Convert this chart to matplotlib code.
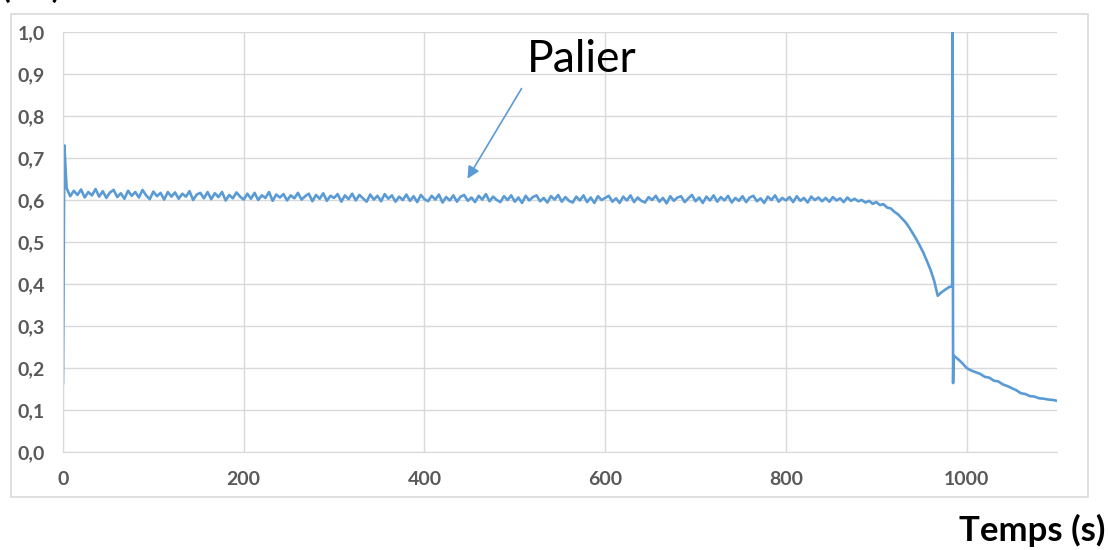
import numpy as np
import matplotlib
matplotlib.use("Agg")
import matplotlib.pyplot as plt
from matplotlib.patches import Rectangle
from matplotlib.ticker import FuncFormatter

# --- data ---
t_start = [0, 1.5]
y_start = [0.164, 0.73]

# plateau, one value every 4 s from 4 to 880 s
t_plateau = list(range(4, 884, 4))
y_plateau = [
    0.628, 0.609, 0.622, 0.612, 0.625, 0.606, 0.619, 0.611, 0.626, 0.608,
    0.621, 0.605, 0.618, 0.624, 0.607, 0.616, 0.603, 0.622, 0.610, 0.619,
    0.606, 0.624, 0.611, 0.602, 0.620, 0.609, 0.617, 0.601, 0.619, 0.608,
    0.618, 0.603, 0.615, 0.608, 0.621, 0.600, 0.613, 0.617, 0.604, 0.619,
    0.602, 0.616, 0.607, 0.619, 0.599, 0.612, 0.604, 0.618, 0.608, 0.601,
    0.615, 0.603, 0.617, 0.600, 0.611, 0.605, 0.619, 0.598, 0.613, 0.606,
    0.614, 0.599, 0.611, 0.604, 0.617, 0.601, 0.609, 0.615, 0.597, 0.612,
    0.603, 0.616, 0.598, 0.610, 0.605, 0.614, 0.596, 0.611, 0.602, 0.615,
    0.599, 0.612, 0.604, 0.596, 0.613, 0.601, 0.610, 0.597, 0.614, 0.603,
    0.611, 0.596, 0.608, 0.600, 0.613, 0.598, 0.609, 0.595, 0.612, 0.602,
    0.597, 0.610, 0.601, 0.613, 0.594, 0.607, 0.599, 0.611, 0.596, 0.608,
    0.612, 0.598, 0.606, 0.595, 0.610, 0.601, 0.614, 0.597, 0.608, 0.600,
    0.595, 0.609, 0.600, 0.611, 0.596, 0.606, 0.593, 0.610, 0.599, 0.607,
    0.611, 0.597, 0.605, 0.594, 0.609, 0.601, 0.612, 0.596, 0.607, 0.598,
    0.594, 0.608, 0.599, 0.611, 0.595, 0.606, 0.593, 0.609, 0.600, 0.605,
    0.610, 0.596, 0.604, 0.593, 0.608, 0.599, 0.611, 0.595, 0.606, 0.598,
    0.594, 0.607, 0.600, 0.610, 0.596, 0.605, 0.592, 0.609, 0.598, 0.606,
    0.609, 0.595, 0.604, 0.612, 0.597, 0.606, 0.593, 0.608, 0.599, 0.611,
    0.596, 0.607, 0.599, 0.610, 0.594, 0.605, 0.598, 0.609, 0.595, 0.606,
    0.610, 0.597, 0.604, 0.593, 0.608, 0.600, 0.611, 0.596, 0.605, 0.599,
    0.607, 0.595, 0.609, 0.598, 0.605, 0.594, 0.608, 0.600, 0.606, 0.597,
    0.605, 0.596, 0.607, 0.599, 0.604, 0.595, 0.606, 0.598, 0.603, 0.597,
]

# drop before the break, every 4 s from 884 to 980 s
t_drop = list(range(884, 984, 4))
y_drop = [
    0.600, 0.594, 0.598, 0.591, 0.595, 0.588, 0.590, 0.582, 0.580, 0.572,
    0.566, 0.557, 0.548, 0.536, 0.522, 0.508, 0.492, 0.475, 0.455, 0.434,
    0.408, 0.372, 0.380, 0.386, 0.392,
]

# break spike
t_spike = [984, 984.5, 985, 985.5]
y_spike = [0.395, 1.05, 0.164, 0.230]

# tail after the break, every 5 s
t_tail = list(range(990, 1105, 5))
y_tail = [
    0.222, 0.212, 0.200, 0.194, 0.190, 0.186, 0.179, 0.177, 0.170, 0.168,
    0.161, 0.157, 0.152, 0.147, 0.140, 0.138, 0.133, 0.132, 0.128, 0.127,
    0.125, 0.124, 0.122,
]

x_ticks = [0, 200, 400, 600, 800, 1000]
y_ticks = [0.0, 0.1, 0.2, 0.3, 0.4, 0.5, 0.6, 0.7, 0.8, 0.9, 1.0]

t = np.array(t_start + t_plateau + t_drop + t_spike + t_tail, dtype=float)
y = np.array(y_start + y_plateau + y_drop + y_spike + y_tail)

plt.rcParams['font.family'] = ['Lato', 'DejaVu Sans']

blue = '#5b9bd5'
grid_c = '#d9d9d9'
label_c = '#595959'

fig = plt.figure(figsize=(11.08, 5.5), dpi=100)
fig.patches.append(Rectangle((11 / 1108, 53 / 550), 1077 / 1108, 483 / 550,
                             transform=fig.transFigure, fill=False,
                             edgecolor=grid_c, linewidth=1.2))
ax = fig.add_axes([63 / 1108, 98 / 550, 994 / 1108, 420 / 550])

ax.plot(t, y, color=blue, linewidth=1.9)

ax.set_xlim(0, 1100)
ax.set_ylim(0, 1.0)
ax.set_xticks(x_ticks)
ax.set_yticks(y_ticks)
ax.yaxis.set_major_formatter(FuncFormatter(lambda v, p: f"{v:.1f}".replace('.', ',')))
ax.grid(True, color=grid_c, linewidth=1)
ax.set_axisbelow(True)
for s in ['top', 'right']:
    ax.spines[s].set_visible(False)
for s in ['left', 'bottom']:
    ax.spines[s].set_color(grid_c)
ax.tick_params(length=0, labelsize=14, labelcolor=label_c)
ax.tick_params(axis='y', pad=13)
ax.tick_params(axis='x', pad=14)
for lab in ax.get_xticklabels() + ax.get_yticklabels():
    lab.set_fontweight('bold')

ax.annotate('', xy=(446, 0.645), xytext=(509, 0.871),
            arrowprops=dict(arrowstyle='-|>', color=blue, lw=1.2,
                            mutation_scale=18))
ax.text(582 / 1108, 490 / 550, 'Palier', transform=fig.transFigure,
        fontsize=32, ha='center', va='center', color='black')

fig.text(1105 / 1108, 20 / 550, 'Temps (s)', fontsize=25, fontweight='bold',
         ha='right', va='center', color='black')
fig.text(2 / 1108, 1.0 + 12 / 550, '(kN)', fontsize=23, fontweight='bold',
         ha='left', va='center', color='black')

fig.savefig('out.png', dpi=100)
